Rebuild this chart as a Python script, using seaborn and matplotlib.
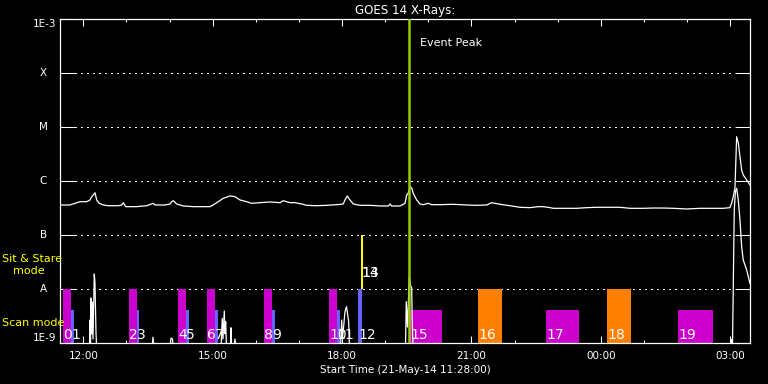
import matplotlib
matplotlib.use("Agg")
import matplotlib.pyplot as plt
from matplotlib.ticker import MultipleLocator, FuncFormatter, NullLocator
import seaborn as sns
import pandas as pd

## GOES 14 light curves, time in hours since 21-May-14 00:00, flux in W/m^2

# long channel (1-8 A)
long_hours = [11.467, 11.69, 11.807, 11.924, 12.079, 12.155, 12.195, 12.232, 12.271, 12.311,
              12.371, 12.464, 12.580, 12.812, 12.891, 12.928, 12.983, 13.238, 13.470, 13.623,
              13.663, 13.895, 14.011, 14.050, 14.087, 14.166, 14.319, 14.551, 14.938, 15.014,
              15.093, 15.246, 15.402, 15.518, 15.634, 15.789, 15.905, 16.097, 16.329, 16.561,
              16.638, 16.793, 16.909, 17.064, 17.180, 17.412, 17.644, 17.876, 18.029, 18.068,
              18.122, 18.184, 18.261, 18.416, 18.648, 18.880, 19.073, 19.112, 19.151, 19.344,
              19.460, 19.499, 19.536, 19.576, 19.615, 19.652, 19.731, 19.808, 19.884, 20.000,
              20.079, 20.271, 20.580, 20.890, 21.122, 21.354, 21.470, 21.547, 21.663, 21.895,
              22.127, 22.359, 22.551, 22.667, 22.822, 22.899, 23.130, 23.441, 23.673, 23.905,
              24.137, 24.446, 24.678, 24.986, 25.218, 25.449, 25.681, 25.992, 26.300, 26.532,
              26.841, 26.996, 27.036, 27.072, 27.112, 27.151, 27.189, 27.228, 27.267, 27.304,
              27.383, 27.459]
long_flux = [3.64e-7, 3.64e-7, 3.91e-7, 4.19e-7, 4.19e-7, 4.51e-7, 5.19e-7, 5.57e-7, 6.15e-7, 4.51e-7,
             3.91e-7, 3.64e-7, 3.53e-7, 3.53e-7, 3.64e-7, 4.02e-7, 3.39e-7, 3.39e-7, 3.53e-7, 3.91e-7,
             3.64e-7, 3.64e-7, 3.80e-7, 4.19e-7, 4.37e-7, 3.80e-7, 3.49e-7, 3.39e-7, 3.39e-7, 3.64e-7,
             4.02e-7, 4.84e-7, 5.35e-7, 5.19e-7, 4.51e-7, 4.19e-7, 3.91e-7, 4.02e-7, 4.14e-7, 4.02e-7,
             4.37e-7, 4.02e-7, 4.02e-7, 3.80e-7, 3.59e-7, 3.53e-7, 3.59e-7, 3.69e-7, 3.80e-7, 4.51e-7,
             5.35e-7, 4.51e-7, 3.80e-7, 3.59e-7, 3.59e-7, 3.49e-7, 3.49e-7, 3.80e-7, 3.49e-7, 3.49e-7,
             3.91e-7, 5.57e-7, 6.0e-7, 7.94e-7, 7.52e-7, 6.0e-7, 4.51e-7, 3.80e-7, 3.69e-7, 3.91e-7,
             3.69e-7, 3.69e-7, 3.75e-7, 3.64e-7, 3.59e-7, 3.64e-7, 4.02e-7, 3.91e-7, 3.75e-7, 3.53e-7,
             3.30e-7, 3.25e-7, 3.39e-7, 3.39e-7, 3.25e-7, 3.16e-7, 3.16e-7, 3.16e-7, 3.25e-7, 3.30e-7,
             3.30e-7, 3.30e-7, 3.16e-7, 3.16e-7, 3.20e-7, 3.20e-7, 3.16e-7, 3.07e-7, 3.16e-7, 3.16e-7,
             3.16e-7, 3.25e-7, 3.96e-7, 5.19e-7, 7.52e-7, 6.70e-6, 5.12e-6, 2.86e-6, 1.62e-6, 1.31e-6,
             1.06e-6, 8.54e-7]

# short channel (0.5-4 A), mostly below the 1E-9 floor
short_hours = [11.467, 12.144, 12.155, 12.167, 12.179, 12.195, 12.209, 12.225, 12.255, 12.271,
               12.295, 12.311, 13.593, 13.616, 13.640, 14.011, 14.034, 14.068, 14.092, 15.193,
               15.223, 15.239, 15.270, 15.286, 15.302, 15.321, 15.413, 15.425, 15.441, 15.494,
               15.518, 15.541, 17.964, 17.992, 18.010, 18.068, 18.103, 18.127, 18.154, 18.173,
               19.471, 19.490, 19.518, 19.560, 19.587, 19.615, 19.634, 19.652, 27.007, 27.019,
               27.030, 27.054, 27.072, 27.096, 27.123, 27.151, 27.189, 27.228, 27.267, 27.304,
               27.383, 27.459]
short_flux = [8e-10, 8e-10, 2.7e-9, 9e-10, 6.9e-9, 1.5e-9, 5.8e-9, 1.2e-9, 1.92e-8, 1.31e-8,
              1.55e-9, 8e-10, 8e-10, 1.3e-9, 8e-10, 8e-10, 1.25e-9, 1.2e-9, 8e-10, 8e-10,
              2.9e-9, 1.2e-9, 3.96e-9, 1.5e-9, 2.5e-9, 8e-10, 8e-10, 1.94e-9, 8e-10, 8e-10,
              1.2e-9, 8e-10, 8e-10, 2.7e-9, 1.2e-9, 3.8e-9, 4.76e-9, 3.59e-9, 2.51e-9, 8e-10,
              8e-10, 5.9e-9, 2.0e-9, 1.71e-8, 1.2e-8, 1.04e-8, 1.5e-9, 8e-10, 8e-10, 1.2e-9,
              8e-10, 8e-10, 1.0e-8, 3.0e-7, 6.5e-7, 7.42e-7, 4.51e-7, 1.92e-7, 6.15e-8, 3.49e-8,
              2.28e-8, 1.29e-8]

## observation blocks
obs_ids = ["0", "1", "2", "3", "4", "5", "6", "7", "8", "9",
           "10", "11", "12", "13", "14", "15", "16", "17", "18", "19"]
obs_start = [11.536, 11.715, 13.060, 13.238, 14.203, 14.375, 14.875, 15.054, 16.190, 16.383,
             17.697, 17.876, 18.370, 18.440, 18.440, 19.576, 21.152, 22.729, 24.144, 25.791]
obs_end = [11.715, 11.784, 13.238, 13.292, 14.375, 14.444, 15.054, 15.130, 16.383, 16.445,
           17.876, 17.946, 18.456, 18.479, 18.479, 20.318, 21.702, 23.495, 24.701, 26.603]
obs_bottom = [1e-9] * 13 + [1e-8, 1e-8] + [1e-9] * 5
obs_top = [1e-8, 4.1e-9, 1e-8, 4.1e-9, 1e-8, 4.1e-9, 1e-8, 4.1e-9, 1e-8, 4.1e-9,
           1e-8, 4.1e-9, 1e-8, 1e-7, 1e-7, 4.1e-9, 1e-8, 4.1e-9, 1e-8, 4.1e-9]
obs_group = ["m", "b", "m", "b", "m", "b", "m", "b", "m", "b",
             "m", "b", "b", "y", "y", "m", "o", "m", "o", "m"]

event_peak = 19.545
goes_levels = [1e-8, 1e-7, 1e-6, 1e-5, 1e-4]
goes_letters = ["A", "B", "C", "M", "X"]

palette = {"m": "#CC00CC", "b": "#6464FF", "o": "#FF8000", "y": "#FFFF00"}

sns.set_theme(style="dark", rc={
    "figure.facecolor": "black", "axes.facecolor": "black",
    "axes.edgecolor": "white", "axes.labelcolor": "white",
    "text.color": "white", "xtick.color": "white", "ytick.color": "white",
    "axes.grid": False,
})
plt.rcParams["font.family"] = ["DejaVu Sans"]

fig = plt.figure(figsize=(7.68, 3.84), dpi=100)
ax = fig.add_axes([0.0785, 0.106, 0.8984, 0.84375])
ax.set_yscale("log")

# dotted level lines
for lev in goes_levels:
    ax.axhline(lev, xmin=0.022, xmax=0.978, color="white", lw=0.75,
               linestyle=(0, (1, 4)), zorder=0.5, antialiased=False)

# observation bars
for i in range(len(obs_ids)):
    ax.bar(obs_start[i], obs_top[i] - obs_bottom[i], width=obs_end[i] - obs_start[i],
           bottom=obs_bottom[i], align="edge", color=palette[obs_group[i]],
           linewidth=0, zorder=1, antialiased=False)

long_df = pd.DataFrame({"hours": long_hours, "flux": long_flux})
short_df = pd.DataFrame({"hours": short_hours, "flux": short_flux})
sns.lineplot(data=long_df, x="hours", y="flux", ax=ax, color="white", lw=0.9,
             estimator=None, sort=False, zorder=2)
sns.lineplot(data=short_df, x="hours", y="flux", ax=ax, color="white", lw=0.9,
             estimator=None, sort=False, zorder=2)

ax.axvline(event_peak, color="#99CC00", lw=1.8, zorder=3)
ax.annotate("Event Peak", xy=(event_peak, 3.7e-4), xytext=(8, 0),
            textcoords="offset points", va="center", ha="left",
            color="white", fontsize=8)

# block numbers
for i in range(len(obs_ids)):
    ylab = obs_bottom[i] * (1.22 if obs_bottom[i] < 5e-9 else 1.67)
    ax.text(obs_start[i], ylab, obs_ids[i], color="white", fontsize=10,
            ha="left", va="baseline", zorder=4)

ax.set_xlim(11.4667, 27.4667)
ax.set_ylim(1e-9, 1e-3)

ax.xaxis.set_major_locator(MultipleLocator(3))
ax.xaxis.set_minor_locator(MultipleLocator(1))
ax.xaxis.set_major_formatter(FuncFormatter(lambda h, pos: "%02d:00" % (int(round(h)) % 24)))
ax.tick_params(axis="x", which="major", direction="in", length=5, width=0.75,
               top=True, bottom=True, labelsize=7.5, pad=5.5)
ax.tick_params(axis="x", which="minor", direction="in", length=2.4, width=0.75,
               top=True, bottom=True)

ax.set_yticks([1e-9, 1e-8, 1e-7, 1e-6, 1e-5, 1e-4, 1e-3],
              ["1E-9", "", "", "", "", "", "1E-3"])
ax.yaxis.set_minor_locator(NullLocator())
ax.tick_params(axis="y", which="major", direction="in", length=10.8, width=0.75,
               left=True, right=True, labelsize=7.5, pad=3)
ylabels = ax.get_yticklabels()
ylabels[0].set_va("bottom")
ylabels[-1].set_va("top")

for lev, let in zip(goes_levels, goes_letters):
    ax.text(-0.0243, lev, let, transform=ax.get_yaxis_transform(),
            ha="center", va="center", color="white", fontsize=7.5)

ax.text(-0.0845, 3.64e-8, "Sit & Stare", transform=ax.get_yaxis_transform(),
        ha="left", va="center", color="#FFFF00", fontsize=8)
ax.text(-0.069, 2.18e-8, "mode", transform=ax.get_yaxis_transform(),
        ha="left", va="center", color="#FFFF00", fontsize=8)
ax.text(-0.0849, 2.35e-9, "Scan mode", transform=ax.get_yaxis_transform(),
        ha="left", va="center", color="#FFFF00", fontsize=8)

for sp in ax.spines.values():
    sp.set_color("white")
    sp.set_linewidth(0.9)

ax.set_title("GOES 14 X-Rays:", color="white", fontsize=8.6, pad=3.8)
ax.set_xlabel("Start Time (21-May-14 11:28:00)", fontsize=7.5, labelpad=3)
ax.set_ylabel("")

fig.savefig("out.png", dpi=100, facecolor="black")
